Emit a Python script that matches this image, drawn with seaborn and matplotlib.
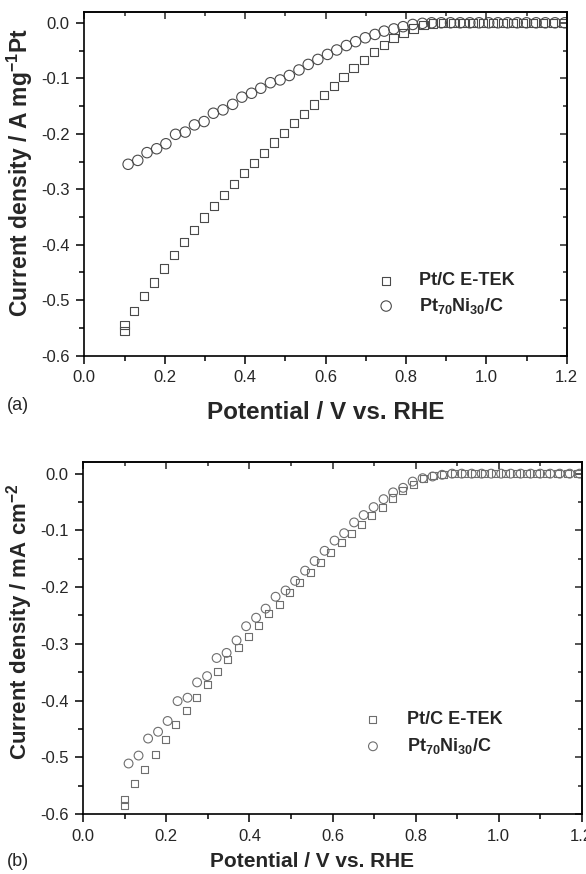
import matplotlib
matplotlib.use('Agg')
import matplotlib.pyplot as plt
import seaborn as sns
import pandas as pd
from matplotlib.ticker import MultipleLocator

# potentials (V vs. RHE)
potential_etek = [0.100, 0.100, 0.124, 0.148, 0.173, 0.198, 0.223, 0.248, 0.273, 0.298,
                  0.323, 0.348, 0.373, 0.397, 0.422, 0.447, 0.472, 0.497, 0.521, 0.546,
                  0.571, 0.596, 0.621, 0.645, 0.670, 0.695, 0.720, 0.745, 0.769, 0.794,
                  0.819, 0.844, 0.868, 0.893, 0.918, 0.943, 0.967, 0.992, 1.017, 1.042,
                  1.067, 1.091, 1.116, 1.141, 1.166, 1.190]
potential_ptni = [0.109, 0.133, 0.156, 0.180, 0.203, 0.227, 0.251, 0.274, 0.298, 0.321,
                  0.345, 0.369, 0.392, 0.416, 0.439, 0.463, 0.487, 0.510, 0.534, 0.557,
                  0.581, 0.605, 0.628, 0.652, 0.675, 0.699, 0.723, 0.746, 0.770, 0.793,
                  0.817, 0.841, 0.864, 0.888, 0.911, 0.935, 0.959, 0.982, 1.006, 1.029,
                  1.053, 1.077, 1.100, 1.124, 1.147, 1.171, 1.195]

# (a) mass activity, A mg-1 Pt
mass_etek = [-0.545, -0.555, -0.519, -0.492, -0.468, -0.443, -0.419, -0.395, -0.373, -0.351,
             -0.330, -0.310, -0.290, -0.271, -0.253, -0.235, -0.216, -0.199, -0.181, -0.164,
             -0.147, -0.130, -0.114, -0.098, -0.082, -0.067, -0.053, -0.040, -0.028, -0.018,
             -0.010, -0.004, -0.001, 0.0, 0.0, 0.0, 0.0, 0.0, 0.0, 0.0,
             0.0, 0.0, 0.0, 0.0, 0.0, 0.0]
mass_ptni = [-0.255, -0.248, -0.234, -0.227, -0.218, -0.201, -0.197, -0.184, -0.178, -0.163,
             -0.157, -0.147, -0.134, -0.127, -0.118, -0.108, -0.103, -0.095, -0.085, -0.075,
             -0.066, -0.057, -0.049, -0.041, -0.034, -0.027, -0.021, -0.015, -0.011, -0.007,
             -0.003, -0.001, 0.0, 0.0, 0.0, 0.0, 0.0, 0.0, 0.0, 0.0,
             0.0, 0.0, 0.0, 0.0, 0.0, 0.0, 0.0]

# (b) specific activity, mA cm-2
spec_etek = [-0.575, -0.585, -0.547, -0.521, -0.495, -0.468, -0.442, -0.418, -0.394, -0.371,
             -0.349, -0.327, -0.307, -0.287, -0.267, -0.247, -0.230, -0.210, -0.192, -0.174,
             -0.156, -0.139, -0.121, -0.105, -0.089, -0.073, -0.059, -0.043, -0.030, -0.019,
             -0.009, -0.004, -0.001, 0.0, 0.0, 0.0, 0.0, 0.0, 0.0, 0.0,
             0.0, 0.0, 0.0, 0.0, 0.0, 0.0]
spec_ptni = [-0.511, -0.497, -0.467, -0.455, -0.436, -0.401, -0.395, -0.368, -0.357, -0.325,
             -0.316, -0.294, -0.269, -0.254, -0.238, -0.217, -0.206, -0.189, -0.171, -0.154,
             -0.136, -0.118, -0.105, -0.086, -0.073, -0.059, -0.045, -0.033, -0.025, -0.014,
             -0.008, -0.005, -0.002, 0.0, 0.0, 0.0, 0.0, 0.0, 0.0, 0.0,
             0.0, 0.0, 0.0, 0.0, 0.0, 0.0, 0.0]

labels = ['Pt/C E-TEK', r'Pt$_{70}$Ni$_{30}$/C']
x_ticks = [0.0, 0.2, 0.4, 0.6, 0.8, 1.0, 1.2]
y_ticks = [0.0, -0.1, -0.2, -0.3, -0.4, -0.5, -0.6]

sns.set_style('ticks')
plt.rcParams['font.family'] = ['Liberation Sans', 'DejaVu Sans']
plt.rcParams['mathtext.default'] = 'regular'

fig = plt.figure(figsize=(5.86, 8.74), dpi=100)
W, H = 586, 874


def px_axes(left, right, top, bottom):
    return fig.add_axes([left / W, 1 - bottom / H, (right - left) / W, (bottom - top) / H])


def style_axes(ax, tick_size):
    ax.set_xlim(0.0, 1.2)
    ax.set_ylim(-0.6, 0.02)
    ax.set_xticks(x_ticks)
    ax.set_yticks(y_ticks)
    ax.xaxis.set_minor_locator(MultipleLocator(0.1))
    ax.yaxis.set_minor_locator(MultipleLocator(0.05))
    ax.set_xticklabels([f'{v:.1f}' for v in x_ticks])
    ax.set_yticklabels([f'{v:.1f}' for v in y_ticks])
    for s in ax.spines.values():
        s.set_linewidth(1.2)
        s.set_color('black')
    ax.tick_params(which='both', direction='out', width=1.1, color='black',
                   labelsize=tick_size, pad=5)
    ax.tick_params(which='major', length=5.5)
    ax.tick_params(which='minor', length=3.5)

    # mirrored ticks pointing inward on top/right
    sec_x = ax.secondary_xaxis('top')
    sec_x.set_xticks(x_ticks)
    sec_x.xaxis.set_minor_locator(MultipleLocator(0.1))
    sec_x.tick_params(which='both', direction='in', labeltop=False, width=1.1)
    sec_x.tick_params(which='major', length=5)
    sec_x.tick_params(which='minor', length=3)
    sec_x.spines['top'].set_linewidth(1.2)
    sec_y = ax.secondary_yaxis('right')
    sec_y.set_yticks(y_ticks)
    sec_y.yaxis.set_minor_locator(MultipleLocator(0.05))
    sec_y.tick_params(which='both', direction='in', labelright=False, width=1.1)
    sec_y.tick_params(which='major', length=5)
    sec_y.tick_params(which='minor', length=3)
    sec_y.spines['right'].set_linewidth(1.2)


def draw_panel(ax, y_etek, y_ptni, color, s_sq, s_ci):
    d1 = pd.DataFrame({'V': potential_etek, 'I': y_etek})
    d2 = pd.DataFrame({'V': potential_ptni, 'I': y_ptni})
    sns.scatterplot(data=d1, x='V', y='I', marker='s', s=s_sq, facecolor='none',
                    edgecolor=color, linewidth=0.8, label=labels[0], ax=ax)
    sns.scatterplot(data=d2, x='V', y='I', marker='o', s=s_ci, facecolor='none',
                    edgecolor=color, linewidth=0.8, label=labels[1], ax=ax)


# ---- (a)
ax1 = px_axes(84.3, 566.7, 11.7, 355.7)
draw_panel(ax1, mass_etek, mass_ptni, '#4a4a4a', 36, 56)
style_axes(ax1, 12)
ax1.set_xlabel('Potential / V vs. RHE', fontsize=17.5, fontweight='bold')
ax1.xaxis.set_label_coords(0.5, -0.165)
ax1.xaxis.label.set_va('center')
ax1.set_ylabel(r'Current density / A mg$^{-1}$Pt', fontsize=16.5, fontweight='bold')
ax1.yaxis.set_label_coords((20 - 84.3) / 482.4, (355.7 - 172) / 344)
ax1.yaxis.label.set_va('center')
ax1.legend(loc='center left', bbox_to_anchor=(0.607, 0.179), frameon=False,
           prop={'weight': 'bold', 'size': 13}, borderpad=0, borderaxespad=0,
           handlelength=1.0, handletextpad=1.3, labelspacing=0.35)

# ---- (b)
ax2 = px_axes(83.3, 581.7, 462.3, 814.0)
draw_panel(ax2, spec_etek, spec_ptni, '#6e6e6e', 26, 40)
style_axes(ax2, 12)
ax2.set_xlabel('Potential / V vs. RHE', fontsize=15, fontweight='bold')
ax2.xaxis.set_label_coords((312 - 83.3) / 498.4, -0.136)
ax2.xaxis.label.set_va('center')
ax2.set_ylabel(r'Current density / mA cm$^{-2}$', fontsize=16, fontweight='bold')
ax2.yaxis.set_label_coords((20 - 83.3) / 498.4, (814 - 622) / 351.7)
ax2.yaxis.label.set_va('center')
ax2.legend(loc='center left', bbox_to_anchor=(0.563, 0.229), frameon=False,
           prop={'weight': 'bold', 'size': 13}, borderpad=0, borderaxespad=0,
           handlelength=1.0, handletextpad=1.4, labelspacing=0.45)

fig.text(7 / W, 1 - 406 / H, '(a)', fontsize=13, va='center', ha='left')
fig.text(7 / W, 1 - 862 / H, '(b)', fontsize=13, va='center', ha='left')

fig.savefig('out.png', dpi=100)
